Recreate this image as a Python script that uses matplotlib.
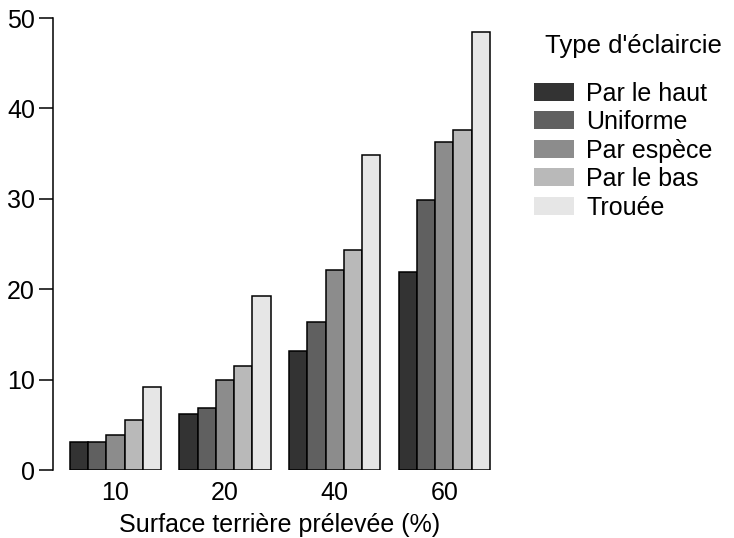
import numpy as np
import matplotlib
matplotlib.use("Agg")
from matplotlib import pyplot as plt

plt.rcParams['font.family'] = ['Liberation Sans', 'DejaVu Sans']

groups = ["10", "20", "40", "60"]
series = ["Par le haut", "Uniforme", "Par espèce", "Par le bas", "Trouée"]
par_le_haut = [3.1, 6.2, 13.2, 21.9]
uniforme = [3.1, 6.9, 16.4, 29.9]
par_espece = [3.9, 10.0, 22.1, 36.3]
par_le_bas = [5.5, 11.5, 24.3, 37.6]
trouee = [9.2, 19.2, 34.8, 48.4]
values = [par_le_haut, uniforme, par_espece, par_le_bas, trouee]
colors = ["#333333", "#606060", "#8c8c8c", "#b9b9b9", "#e6e6e6"]

fig = plt.figure(figsize=(7.34, 5.38), dpi=100)
ax = fig.add_axes([53/734, 68/538, (506.8-53)/734, (470-18)/538])

# barplot layout: width 1, one-bar gap between groups
ng = len(groups)
ns = len(series)
for i in range(ns):
    x = np.arange(ng) * (ns + 1) + 1 + i + 0.5
    ax.bar(x, values[i], width=1, color=colors[i], edgecolor="black",
           linewidth=1.1, label=series[i])

centers = np.arange(ng) * (ns + 1) + 1 + ns / 2
ax.set_xlim(0.08, 24.92)
ax.set_ylim(0, 50)
ax.set_xticks(centers)
ax.set_xticklabels(groups, fontsize=18)
ax.tick_params(axis="x", length=0, pad=8)
ax.set_yticks([0, 10, 20, 30, 40, 50])
ax.tick_params(axis="y", labelsize=18, length=10, width=1.1, pad=3)
for s in ["top", "right", "bottom"]:
    ax.spines[s].set_visible(False)
ax.spines["left"].set_linewidth(1.1)
ax.set_xlabel("Surface terrière prélevée (%)", fontsize=18, labelpad=6)

leg = fig.legend(loc="upper left", bbox_to_anchor=(514/734, 1 - 14/538),
                 title="Type d'éclaircie", frameon=False, fontsize=18,
                 title_fontsize=18.5, handlelength=1.6, handleheight=0.72,
                 labelspacing=0.18, handletextpad=0.5, borderpad=0.3)
for h in leg.legend_handles:
    h.set_edgecolor("none")
leg._legend_box.align = "left"
leg._legend_box.sep = 17
leg.get_title().set_position((11, 0))

fig.savefig("out.png", dpi=100)
